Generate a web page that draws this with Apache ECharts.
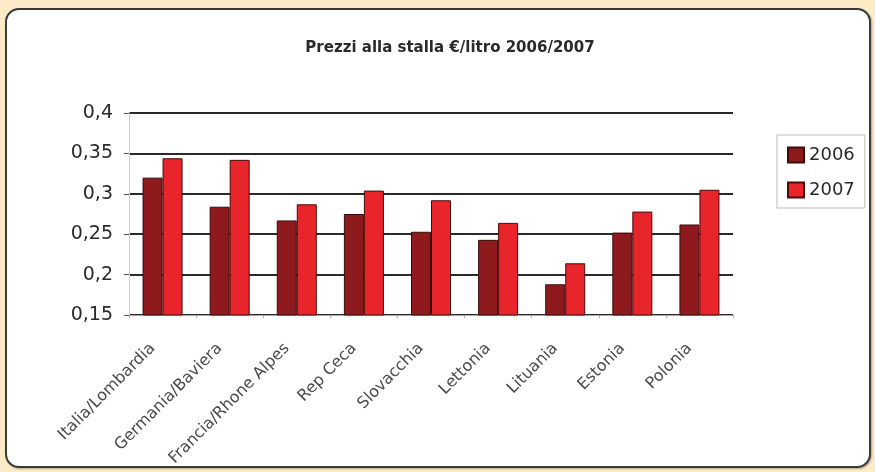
<!DOCTYPE html>
<html>
<head>
<meta charset="utf-8">
<script src="https://cdn.jsdelivr.net/npm/echarts@6/dist/echarts.min.js"></script>
<style>
html,body{margin:0;padding:0;background:#fdebc8;width:875px;height:472px;overflow:hidden;}
#panel{position:absolute;left:5px;top:8px;width:862px;height:456px;border:2px solid #3a3a3a;border-radius:14px;background:#fff;box-shadow:1px 1px 2px rgba(0,0,0,0.3);}
#chart{position:absolute;left:0;top:0;width:875px;height:472px;}
</style>
</head>
<body>
<div id="panel"></div>
<div id="chart"></div>
<script>
const categories = ["Italia/Lombardia","Germania/Baviera","Francia/Rhone Alpes","Rep Ceca","Slovacchia","Lettonia","Lituania","Estonia","Polonia"];
const values2006 = [0.320, 0.284, 0.267, 0.275, 0.253, 0.243, 0.188, 0.252, 0.262];
const values2007 = [0.344, 0.342, 0.287, 0.304, 0.292, 0.264, 0.214, 0.278, 0.305];
const seriesNames = ["2006","2007"];
const titleText = "Prezzi alla stalla €/litro 2006/2007";

const chart = echarts.init(document.getElementById('chart'), null, {renderer:'canvas'});
chart.setOption({
  backgroundColor: 'transparent',
  animation: false,
  title: {
    text: titleText, left: 445, top: 36, textAlign: 'center',
    textStyle: {fontFamily: 'DejaVu Sans, sans-serif', fontWeight: 'bold', fontSize: 15, color: '#2a2a2a'}
  },
  legend: {
    data: seriesNames, orient: 'vertical', left: 777, top: 135,
    icon: 'rect', itemWidth: 16, itemHeight: 15, itemGap: 15, padding: [10, 10, 8, 10],
    borderColor: '#bbb', borderWidth: 1,
    textStyle: {fontFamily: 'DejaVu Sans, sans-serif', fontSize: 18, lineHeight: 20, color: '#2a2a2a'}
  },
  grid: {left: 129, right: 142, top: 113, bottom: 157},
  xAxis: {
    type: 'category', data: categories,
    axisLine: {lineStyle: {color: '#aaa', width: 1}},
    axisTick: {show: true, lineStyle: {color: '#aaa'}, length: 3},
    axisLabel: {rotate: 45, interval: 0, fontFamily: 'DejaVu Sans, sans-serif', fontSize: 16, color: '#4a4a4a', margin: 21, padding: [0, 14, 0, 0]}
  },
  yAxis: {
    type: 'value', min: 0.15, max: 0.4, interval: 0.05,
    axisLine: {show: true, lineStyle: {color: '#ccc'}},
    axisTick: {show: true, lineStyle: {color: '#555'}, length: 5},
    splitLine: {lineStyle: {color: '#2a2a2a', width: 2}},
    axisLabel: {
      fontFamily: 'DejaVu Sans, sans-serif', fontSize: 19, color: '#2a2a2a', margin: 16,
      formatter: v => String(Math.round(v*100)/100).replace('.', ',')
    }
  },
  series: [
    {name: seriesNames[0], type: 'bar', data: values2006, barWidth: 20, barGap: '0%',
     itemStyle: {color: '#8e1a1e', borderColor: '#3a0a0a', borderWidth: 1}},
    {name: seriesNames[1], type: 'bar', data: values2007, barWidth: 20,
     itemStyle: {color: '#e8252a', borderColor: '#4a0a0a', borderWidth: 1}}
  ]
});
</script>
</body>
</html>
